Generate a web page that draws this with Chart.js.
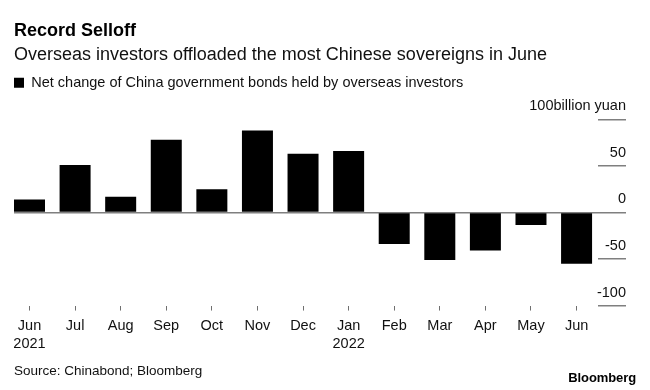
<!DOCTYPE html>
<html>
<head>
<meta charset="utf-8">
<script src="https://cdn.jsdelivr.net/npm/chart.js@4.4.0/dist/chart.umd.min.js"></script>
<style>
  html, body { margin: 0; padding: 0; background: #fff; }
  #wrap { position: relative; width: 650px; height: 390px; overflow: hidden; }
  #c { position: absolute; left: 0; top: 0; }
  .src { position: absolute; left: 14px; top: 364px; font: 13.5px/1 "Liberation Sans", Arial, sans-serif; color: #111; white-space: nowrap; }
  .logo { position: absolute; right: 14px; top: 370.5px; font: bold 13px/1 "Liberation Sans", Arial, sans-serif; color: #000; white-space: nowrap; letter-spacing: -0.1px; }
</style>
</head>
<body>
<div id="wrap">
  <canvas id="c" width="650" height="390"></canvas>
  <div class="src">Source: Chinabond; Bloomberg</div>
  <div class="logo">Bloomberg</div>
</div>
<script>
// ---- data ----
const months = ['Jun', 'Jul', 'Aug', 'Sep', 'Oct', 'Nov', 'Dec', 'Jan', 'Feb', 'Mar', 'Apr', 'May', 'Jun'];
const years  = ['2021', '', '', '', '', '', '', '2022', '', '', '', '', ''];
const netChange = [14, 51, 17, 78, 25, 88, 63, 66, -34, -51, -41, -13.5, -55];
const yTicks = [-100, -50, 0, 50, 100];
const yUnit = 'billion yuan';
const seriesName = 'Net change of China government bonds held by overseas investors';
const titleText = 'Record Selloff';
const subtitleText = 'Overseas investors offloaded the most Chinese sovereigns in June';

const FONT = '"Liberation Sans", Arial, sans-serif';
Chart.defaults.font.family = FONT;
const GREY = '#7f7f7f';

new Chart(document.getElementById('c'), {
  type: 'bar',
  data: {
    datasets: [{
      label: seriesName,
      data: netChange.map((v, i) => ({ x: i, y: v })),
      backgroundColor: '#000',
      borderWidth: 0,
      categoryPercentage: 1,
      barPercentage: 0.68
    }]
  },
  options: {
    responsive: false,
    animation: false,
    devicePixelRatio: 1,
    events: [],
    layout: { padding: { left: 14, right: 24, top: 0, bottom: 31.2 } },
    plugins: {
      tooltip: { enabled: false },
      title: {
        display: true, text: titleText, align: 'start', color: '#000',
        font: { size: 18, weight: 'bold', lineHeight: 1.2 },
        padding: { top: 20, bottom: 0 }
      },
      subtitle: {
        display: true, text: subtitleText, align: 'start', color: '#111',
        font: { size: 18, weight: 'normal', lineHeight: 1.2 },
        padding: { top: 3, bottom: 9.3 }
      },
      legend: {
        display: true, position: 'top', align: 'start',
        labels: {
          boxWidth: 10, boxHeight: 10, padding: 0, color: '#111',
          font: { size: 14.5 }
        }
      }
    },
    scales: {
      x: {
        type: 'linear',
        offset: false,
        min: -0.34, max: 12.47,
        afterBuildTicks: (s) => { s.ticks = months.map((_, i) => ({ value: i })); },
        grid: { offset: false, drawOnChartArea: false, drawTicks: true, tickLength: 5, color: '#6f6f6f', lineWidth: 1 },
        border: { display: false },
        ticks: {
          autoSkip: false, maxRotation: 0, minRotation: 0, padding: 6, color: '#111',
          font: { size: 14.5, lineHeight: 1.25 },
          callback: (v) => years[v] ? [months[v], years[v]] : months[v]
        }
      },
      y: {
        position: 'right',
        min: -100, max: 120.8,
        afterBuildTicks: (s) => { s.ticks = yTicks.map(v => ({ value: v })); },
        afterFit: (s) => { s.width = 28; },
        grid: {
          drawOnChartArea: true,
          color: (ctx) => (ctx.tick && ctx.tick.value === 0) ? GREY : 'rgba(0,0,0,0)',
          lineWidth: 1.5,
          tickColor: GREY, tickWidth: 1.5, tickLength: 28
        },
        border: { display: false },
        ticks: {
          mirror: true, crossAlign: 'near', labelOffset: -13, padding: 28, color: '#111',
          font: { size: 14.5 },
          callback: (v) => v === 100 ? '100' + yUnit : String(v)
        }
      }
    }
  }
});
</script>
</body>
</html>
